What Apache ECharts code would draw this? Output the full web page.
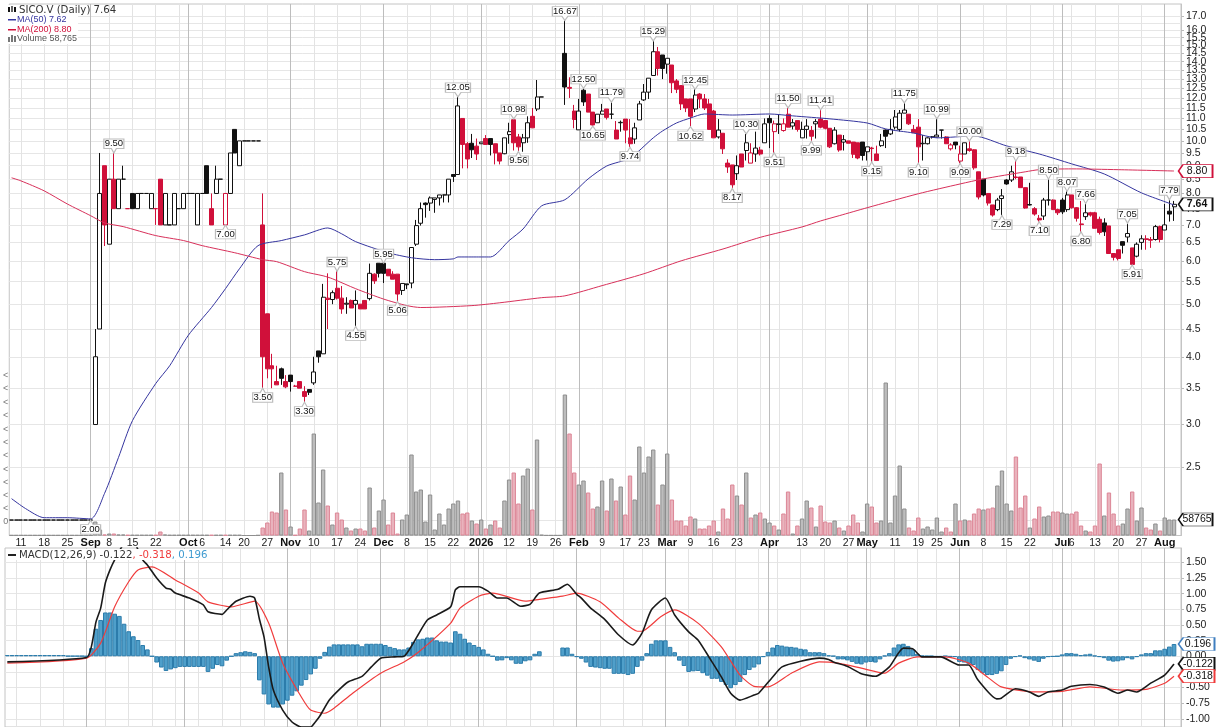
<!DOCTYPE html>
<html><head><meta charset="utf-8">
<script src="https://cdn.jsdelivr.net/npm/echarts@6/dist/echarts.min.js"></script>
<style>html,body{margin:0;padding:0;background:#fff}#c{width:1226px;height:727px}</style></head>
<body><div id="c"></div>
<script>
const tickIndex=[2,7,12,17,21,26,31,38,41,46,50,55,60,65,70,75,80,85,90,95,101,107,112,117,122,127,132,136,141,146,151,156,163,170,175,180,184,190,195,199,204,209,214,219,226,228,233,238,243,248];
const tickLabels=['11','18','25','Sep','8','15','22','Oct','6','14','20','27','Nov','10','17','24','Dec','8','15','22','2026','12','19','26','Feb','9','17','23','Mar','9','16','23','Apr','13','20','27','May','11','19','25','Jun','8','15','22','Jul','6','13','20','27','Aug'];
const extraWeekIndex=[36,98,102,161,165,185,224];
const monthIndex=[17,38,60,80,101,122,141,163,184,204,226,248];
const priceTicks=[2,2.5,3,3.5,4,4.5,5,5.5,6,6.5,7,7.5,8,8.5,9,9.5,10,10.5,11,11.5,12,12.5,13,13.5,14,14.5,15,15.5,16,16.5,17];
const macdTicks=[-1,-0.75,-0.5,-0.25,0,0.25,0.5,0.75,1,1.25,1.5];
const volumeEdgeTicks=[14,27,40,53,66,80,93,106,120,133,147,160];

const opens=[2,2,2,2,2,2,2,2,2,2,
2,2,2,2,2,2,2,2,3,4.5,
9,6.45,8.5,7.5,8.5,7.5,8,7.5,8,8,
7.5,7.5,8.5,7,7,7,7.5,7.5,8,8,
7,8,9,7.5,8,8.5,7,8,10.5,9,
10,10,10,10,7,4.8,3.85,3.6,3.8,3.6,
3.7,3.53,3.6,3.45,3.48,3.58,4.1,4.05,5.13,5.1,
5.35,5.13,5,5.08,5,5,5.08,5.12,5.68,5.95,
5.95,5.8,5.68,5.68,5.3,5.45,5.47,6.45,7.05,7.68,
7.68,7.8,7.85,7.95,7.95,8.67,8.67,11,9.88,9.9,
9.78,9.88,10.1,10.1,9.88,9.5,9.47,10.27,10.94,10.17,
9.92,10.13,11.1,11.45,12.05,null,null,null,null,14.5,
12.55,11.35,10.48,12.4,12.2,11.3,10.8,11.2,11.45,11.2,
10.47,10.8,10.97,10.13,10.08,10.93,11.9,12.3,13.2,14.6,
14.4,13.85,13.8,12.9,12.65,11.95,11.95,11.45,12.2,11.95,
11.7,11.35,10.17,10.33,9.1,9.03,8.7,9.46,9.6,9.1,
9.46,9.62,9.92,11,10.4,10.72,10.45,11.2,10.65,10.9,
10.13,10.5,10.45,10.75,10.97,10.9,10.55,9.88,10.25,9.95,
10,9.95,9.92,9.95,9.55,9.7,9.46,9.8,10.47,10.3,
10.6,10.5,11.25,11.2,10.5,10.6,9.88,9.88,10.17,10.17,
10.47,10.17,9.67,9.95,9.18,9.46,9.67,9.63,8.77,8.5,
8,7.62,7.47,7.83,8.47,8.47,8.58,8.58,8.2,7.63,
7.5,7.2,7.27,7.78,7.78,7.47,7.78,7.47,7.95,7.53,
7.03,7.25,7.37,7.37,7.17,7.06,6.97,6.2,6.3,6.52,
6.65,6.35,6.13,6.5,6.6,6.58,6.58,6.95,6.85,7.42,7.56];
const closes=[2,2,2,2,2,2,2,2,2,2,
2,2,2,2,2,2,2,2,4,8,
7,8.5,7.5,8.5,8.5,7.5,7.5,8,8,8,
8,7.5,7,8,7,8,7.5,8,8,8,
8,8,8,7,8.5,8.5,8,9.5,9.5,10,
10,10,10,10,4,3.8,3.8,3.55,3.65,3.52,
3.6,3.53,3.5,3.38,3.44,3.75,4,5.15,5.1,5.25,
5.13,4.9,5.02,4.92,5.08,4.9,4.9,5.7,5.52,5.7,
5.7,5.64,5.56,5.22,5.46,5.43,6.36,6.98,7.5,7.63,
7.85,7.85,7.95,7.95,8.5,8.6,11.6,9.85,9.26,9.63,
9.46,9.95,9.85,9.85,9.5,9.18,10.13,10.4,9.92,9.75,
10.13,10.8,10.57,12.05,12.05,null,null,null,null,12.57,
12.5,10.95,11.35,11.8,11.3,10.7,11.2,11.35,11.05,11.2,
10.08,10.82,10.47,9.88,10.57,11.7,12.3,13.05,14.6,13.6,
13.6,14.2,12.8,12.45,11.7,11.5,11.1,12.15,11.95,11.5,
10.5,10.13,10.47,9.67,8.95,8.3,9,8.95,9.92,9.5,
9.7,9.46,10.75,10.8,10.75,10.75,10.75,10.6,10.8,10.5,
10.5,10.65,10.2,10.85,10.6,10.55,9.75,10.47,9.62,10.05,
9.9,9.45,9.3,9.4,9.75,9.68,9.2,10,10.2,10.5,
11.07,11.25,11.4,10.75,10.35,9.75,9.9,10.13,10.17,10.25,
10.47,9.88,9.83,9.83,9.46,9.92,9.6,8.92,7.88,7.95,
7.68,7.3,7.78,7.92,8.33,8.77,8.56,8.2,7.52,7.62,
7.33,7.15,7.78,7.78,7.47,7.37,7.4,7.95,7.53,7.2,
7.01,7.37,7.3,6.9,6.78,6.8,6.2,6.1,6.07,6.42,
6.75,5.92,6.45,6.6,6.58,6.56,6.95,6.58,7,7.33,7.64];
const highs=[2,2,2,2,2,2,2,2,2,2,
2,2,2,2,2,2,2,2,4.5,9.5,
9,8.5,9.5,8.5,9,7.5,8,8,8,8,
8,7.5,8.5,8,7,8,7.5,8,8,8,
8,8,9,8,9,8.5,8,9.5,10.5,10,
10,10,10,10,8,4.8,4.05,3.85,3.82,3.7,
3.7,3.55,3.6,3.53,3.48,4,4.1,5.45,5.7,5.3,
5.75,5.4,5.15,5.1,5.3,5,5.08,5.94,5.7,5.95,
5.95,5.8,5.75,5.68,5.46,5.45,6.36,7.15,7.7,7.7,
7.9,7.85,7.95,7.95,8.5,8.67,12.05,11,9.95,10.3,
10.1,9.95,10.25,10.1,9.88,9.5,10.13,10.8,10.98,10.3,
10.3,11.1,11.5,12.95,12.05,null,null,null,null,16.67,
13.1,11.65,11.95,12.5,12.2,11.3,11.2,11.7,11.45,11.79,
10.88,10.9,10.97,10.97,10.8,11.85,12.73,13.05,15.29,14.9,
14.4,14.2,13.8,13,12.65,11.95,11.95,12.45,12.25,12.2,
11.95,11.4,10.97,10.33,9.25,9.03,9.4,9.46,10.3,9.9,
10.4,9.75,11,11.15,10.9,11.2,11,11.5,10.97,10.9,
10.85,10.97,10.65,10.97,11.41,10.9,10.55,10.6,10.25,10.25,
10,9.95,9.92,9.95,9.75,9.75,9.8,10.3,10.5,10.97,
11.4,11.4,11.75,11.2,10.7,10.97,10.25,10.15,10.2,10.99,
10.47,10.2,9.9,9.95,9.8,9.92,10,9.65,8.77,8.5,
8,7.62,7.85,8.15,8.5,9,9.18,8.58,8.2,8.37,
7.55,7.3,7.85,8.5,7.8,7.5,7.85,8.07,7.95,7.55,
7.75,7.66,7.4,7.4,7.25,7.2,6.97,6.2,6.3,6.52,
7.05,6.35,6.5,6.7,6.7,6.65,7,6.98,7.65,7.79,7.75];
const lows=[2,2,2,2,2,2,2,2,2,2,
2,2,2,2,2,2,2,2,3,4.5,
6.4,6.45,7.5,7.5,8.5,7.5,7.5,7.5,8,8,
7.5,7,7,7,7,7,7.5,7.5,8,8,
7,8,8,7,8,8.5,7,8,9.5,9,
10,10,10,10,3.5,3.65,3.5,3.55,3.55,3.5,
3.45,3.53,3.5,3.3,3.4,3.55,3.9,4.05,4.5,5,
5.1,4.8,4.8,4.92,4.55,4.9,4.9,5.08,5.45,5.6,
5.47,5.64,5.56,5.06,5.2,5.33,5.35,6.4,6.98,7.22,
7.43,7.37,7.6,7.7,7.7,8.4,8.67,8.9,8.9,9.3,
9.22,9.88,9.85,9.4,9.05,9.05,9.45,9.88,9.6,9.56,
9.55,9.92,10.57,11.35,12.05,null,null,null,null,11.65,
12,10.55,10.48,11.6,11.3,10.65,10.8,11.2,10.95,10.97,
10.08,10.4,9.9,9.74,9.88,10.93,11.85,11.95,13.2,13.2,
13,13.3,12.25,12.25,11.4,11.3,10.62,11.3,11.5,11.4,
10.5,10.13,10.1,9.46,8.73,8.17,8.47,8.95,9.2,9.1,
9.15,9.4,9.92,9.7,9.51,10.3,10.4,10.6,10.5,10.4,
10.13,10.1,9.99,10.1,10.55,10.5,9.7,9.85,9.55,9.6,
9.9,9.3,9.25,9.2,9.2,9.15,9.2,9.75,9.7,10.25,
10.5,10.4,11.25,10.7,10.35,9.1,9.2,9.85,10.1,10.15,
10.1,9.88,9.6,9.65,9.09,9.46,9.55,8.85,7.8,7.9,
7.6,7.25,7.42,7.29,8.3,8.4,8.5,8.2,7.5,7.6,
7.28,7.1,7.15,7.6,7.47,7.3,7.33,7.4,7.5,7.1,
6.8,7.15,7.25,6.9,6.72,6.68,6.2,6.02,6.02,6.2,
6.5,5.91,6.1,6.3,6.3,6.35,6.55,6.5,6.85,7.1,7.12];
const redFlags=[0,0,0,0,0,0,0,0,0,0,
0,0,0,0,0,0,0,0,0,0,
1,0,1,0,0,1,0,0,0,0,
0,1,1,0,0,0,0,0,0,0,
0,0,0,1,0,0,1,0,0,0,
0,0,0,0,1,1,1,1,0,1,
0,1,1,1,0,0,0,0,1,0,
1,1,0,1,0,1,1,0,1,0,
0,1,1,1,0,0,0,0,0,0,
0,0,0,0,0,0,0,1,1,0,
1,0,1,0,1,1,0,0,1,1,
0,0,1,0,0,0,0,0,0,0,
1,1,0,0,1,1,0,0,1,0,
1,0,1,1,0,0,0,0,0,1,
0,0,1,1,1,1,1,0,1,1,
1,1,0,1,1,1,0,1,0,1,
0,1,0,0,1,0,1,1,0,1,
0,0,1,0,1,1,1,0,1,0,
1,1,1,0,0,1,1,0,0,0,
0,0,0,1,1,1,0,0,0,0,
0,1,1,0,1,0,1,1,1,0,
1,1,0,0,0,0,1,1,1,0,
1,1,0,0,1,1,0,0,1,1,
1,0,1,1,1,0,1,1,1,0,
0,1,0,0,1,1,0,1,0,0,0];
const volumes=[0.3,0.3,0.3,0.3,0.3,0.3,0.3,0.3,0.3,0.3,
0.3,0.3,0.3,0.3,0.3,0.3,0.3,0.3,14,6,
1,2,2,1,1,0.5,0.5,0.5,0.5,0.5,
0.5,0.5,4,1,0.5,0.5,0.5,0.5,0.5,0.5,
0.5,0.5,0.5,0.5,0.5,0.5,0.5,0.5,0.5,0.5,
0,0,0,0.3,8,13,24,23,63,26,
9,0.5,7,26,5,102,33,66,30,11,
23,16,8,5,7,7,5,48,8,25,
36,11,23,2,16,21,81,44,46,14,
41,6,22,11,27,32,35,22,23,15,
12,16,7,11,15,8,35,56,63,32,
60,67,26,96,0.7,0.2,0.2,0.2,0.2,141,
102,63,51,55,43,27,29,55,25,57,
35,49,21,60,36,89,63,79,86,31,
51,82,36,15,15,10,19,17,7,7,
10,15,4,27,17,51,40,31,63,18,
21,23,17,13,10,6,22,44,2,10,
17,35,28,9,30,14,13,15,8,5,
10,21,13,4,32,29,13,15,153,13,
40,70,27,8,5,18,7,9,6,18,
4,8,4,32,15,16,15,22,27,26,
27,28,50,65,32,25,79,28,40,8,
17,29,19,20,24,24,23,22,22,24,
10,5,4,10,72,20,43,22,10,12,
27,44,15,28,8,6,12,5,18,16,16];
const macdHist=[0.02,0.02,0.02,0.02,0.02,0.02,0.02,0.02,0.02,0.02,
0.02,0.02,0.02,0.005,0.005,0.005,0.005,0,0.13,0.44,
0.58,0.7,0.7,0.68,0.645,0.52,0.4,0.32,0.26,0.18,
0.11,0,-0.1,-0.18,-0.235,-0.21,-0.19,-0.17,-0.17,-0.17,
-0.17,-0.17,-0.17,-0.25,-0.2,-0.14,-0.16,-0.07,0,0.05,
0.065,0.08,0.07,0.05,-0.385,-0.61,-0.77,-0.82,-0.82,-0.77,
-0.71,-0.63,-0.56,-0.47,-0.38,-0.29,-0.2,-0.04,0.07,0.155,
0.19,0.19,0.19,0.19,0.19,0.19,0.16,0.2,0.2,0.2,
0.2,0.18,0.15,0.13,0.11,0.11,0.14,0.23,0.27,0.28,
0.3,0.3,0.255,0.235,0.235,0.22,0.4,0.36,0.28,0.22,
0.18,0.15,0.11,0.04,0,-0.07,-0.065,-0.03,-0.065,-0.12,
-0.12,-0.08,-0.065,0.04,0.08,null,null,null,null,0.14,
0.14,0.04,-0.01,-0.04,-0.1,-0.17,-0.18,-0.19,-0.2,-0.2,
-0.28,-0.28,-0.28,-0.3,-0.28,-0.17,-0.07,0.05,0.2,0.255,
0.255,0.255,0.15,0.065,-0.07,-0.155,-0.25,-0.24,-0.235,-0.27,
-0.31,-0.36,-0.36,-0.41,-0.46,-0.51,-0.46,-0.41,-0.3,-0.22,
-0.18,-0.13,-0.01,0.07,0.14,0.18,0.17,0.155,0.15,0.14,
0.12,0.11,0.065,0.065,0.065,0.05,0.015,0.005,-0.05,-0.05,
-0.065,-0.09,-0.12,-0.13,-0.1,-0.09,-0.1,-0.05,0.01,0.05,
0.14,0.19,0.2,0.165,0.11,0.04,0.01,0.005,0.005,-0.005,
-0.005,0.005,-0.005,-0.01,-0.09,-0.1,-0.12,-0.14,-0.22,-0.27,
-0.3,-0.3,-0.28,-0.24,-0.14,-0.04,-0.01,0.01,-0.03,-0.05,
-0.07,-0.09,-0.04,-0.01,-0.005,0,0.03,0.05,0.05,0.04,
0.02,0.03,0.04,0.01,-0.01,-0.03,-0.07,-0.085,-0.08,-0.065,
-0.03,-0.05,-0.01,0.03,0.05,0.05,0.095,0.095,0.12,0.155,0.196];

const ma50Index=[0,3,7,12,17,20,23,26,31,34,38,43,46,49,53,58,63,68,71,74,81,86,91,95,96,99,103,107,110,114,119,124,128,133,138,140,143,146,149,155,163,168,176,184,188,194,199,207,214,221,228,235,243,250];
const ma50Values=[2.19,2.1,2.02,2.02,2.01,2.24,2.61,3.05,3.57,3.85,4.38,4.93,5.34,5.81,6.41,6.55,6.71,6.91,6.74,6.52,6.22,6.09,6.04,6.06,6.11,6.11,6.11,6.55,6.88,7.59,7.79,8.51,8.99,9.3,10.13,10.43,10.79,11.02,11.21,11.16,11.21,11.12,10.98,10.79,10.52,10.34,10.13,10.21,9.79,9.46,9.07,8.69,8.02,7.62];
const ma200Index=[0,2,7,12,17,20,24,31,37,41,48,54,57,63,67,69,74,80,85,88,99,105,114,119,127,136,144,153,161,170,174,178,184,195,204,209,218,221,228,238,250];
const ma200Values=[8.55,8.44,8.09,7.65,7.28,7.06,6.95,6.69,6.55,6.41,6.22,6.04,5.99,5.74,5.64,5.57,5.34,5.11,4.97,4.93,4.97,5.03,5.14,5.18,5.41,5.69,6.01,6.32,6.64,6.94,7.12,7.28,7.53,7.99,8.33,8.51,8.77,8.85,8.88,8.85,8.8];
const macdIndex=[0,17,18,19,20,21,22,23,25,27,28,29,30,32,34,35,36,39,42,43,46,47,49,52,53,54,55,56,57,59,61,63,65,66,67,69,71,73,76,78,80,83,85,87,88,90,92,95,96,97,101,103,105,107,110,112,114,118,120,122,123,125,128,131,134,136,138,141,143,146,148,151,153,155,157,160,161,164,166,170,174,176,177,180,183,186,189,192,194,196,200,204,206,208,212,213,216,219,221,223,226,228,232,235,238,240,242,245,248,250];
const macdValues=[-0.09,-0.02,0.15,0.55,0.77,1.17,1.38,1.54,1.8,1.85,1.7,1.54,1.46,1.25,1.09,1.07,1.01,0.93,0.82,0.71,0.67,0.74,0.88,0.96,0.93,0.6,0.31,-0.17,-0.54,-0.86,-1.05,-1.13,-1.13,-1.05,-0.95,-0.7,-0.54,-0.41,-0.32,-0.17,-0.03,-0.01,0,0.21,0.34,0.58,0.66,0.79,1.06,1.11,1.11,1.04,0.93,0.93,0.8,0.83,1.01,1.07,1.15,0.99,0.93,0.77,0.59,0.34,0.18,0.37,0.74,0.93,0.66,0.39,0.26,-0.09,-0.33,-0.59,-0.7,-0.62,-0.59,-0.33,-0.17,-0.08,-0.03,-0.05,-0.09,-0.16,-0.28,-0.32,-0.17,0.13,0.12,-0.01,-0.01,-0.14,-0.14,-0.38,-0.68,-0.67,-0.52,-0.57,-0.64,-0.57,-0.54,-0.48,-0.45,-0.49,-0.59,-0.54,-0.57,-0.43,-0.3,-0.122];
const signalIndex=[0,17,20,23,26,28,31,36,41,43,48,53,56,59,63,65,68,70,74,80,85,88,95,97,101,104,111,114,119,122,127,131,135,136,140,143,148,153,157,160,163,168,174,178,183,188,191,195,201,206,210,213,220,226,232,239,244,248,250];
const signalValues=[-0.11,-0.03,0.21,0.79,1.19,1.38,1.43,1.22,1.01,0.87,0.79,0.88,0.53,-0.11,-0.65,-0.86,-0.91,-0.83,-0.59,-0.27,-0.09,0.06,0.53,0.77,0.96,1.01,0.88,0.91,0.96,1.01,0.87,0.61,0.4,0.4,0.63,0.74,0.53,0.15,-0.3,-0.48,-0.49,-0.27,-0.09,-0.11,-0.19,-0.27,-0.11,-0.01,-0.01,-0.11,-0.33,-0.49,-0.57,-0.56,-0.49,-0.54,-0.53,-0.43,-0.318];

const highCallIndex=[22,70,80,96,108,119,123,129,138,147,158,167,174,192,199,206,216,223,227,231,240,249];
const highCallValues=[9.5,5.75,5.95,12.05,10.98,16.67,12.5,11.79,15.29,12.45,10.3,11.5,11.41,11.75,10.99,10,9.18,8.5,8.07,7.66,7.05,7.79];
const lowCallIndex=[17,46,54,63,74,83,109,125,133,146,155,164,172,185,195,204,213,221,230,241];
const lowCallValues=[2,7,3.5,3.3,4.55,5.06,9.56,10.65,9.74,10.62,8.17,9.51,9.99,9.15,9.1,9.09,7.29,7.1,6.8,5.91];

const lastClose=7.64, lastMa200=8.80, lastVolume=58765, lastMacd=-0.122, lastSignal=-0.318, lastHist=0.196;

const RED='#d0103a', BLACK='#111', BLUE='#35359f';
const categories=new Array(252).fill('');
tickIndex.forEach((t,k)=>{categories[t]=tickLabels[k];});
const weekSet=new Set(tickIndex.concat(extraWeekIndex));
const monthSet=new Set(monthIndex);
const boldLabels=new Set(['Sep','Oct','Nov','Dec','2026','Feb','Mar','Apr','May','Jun','Jul','Aug']);
const pairs=(xs,ys)=>xs.map((x,i)=>[x,ys[i]]);

const candleData=opens.map((o,i)=>{
  if(o===null) return {value:['-','-','-','-']};
  const col=redFlags[i]?RED:BLACK;
  const fill=closes[i]>o?'#fff':col;
  return {value:[o,closes[i],lows[i],highs[i]],itemStyle:{color:fill,color0:fill,borderColor:col,borderColor0:col}};
});
const volumeData=volumes.map((v,i)=>({value:v,itemStyle:redFlags[i]?{color:'#e9b3bd',borderColor:'#dc8696'}:{color:'#bdbdbd',borderColor:'#8e8e8e'}}));

const HIGH_PATH='path://M0,0H20V9.5H12.5L10,14L7.5,9.5H0Z';
const LOW_PATH='path://M10,0L12.5,4.5H20V14H0V4.5H7.5Z';
const TAG_PATH='path://M0,5L4,0H30V10H4Z';
const callout=(data,path,off,labOff)=>({type:'scatter',xAxisIndex:0,yAxisIndex:0,z:8,clip:false,silent:true,
  data,symbol:path,symbolSize:v=>[v[1]>=10?25:20,14],symbolOffset:[0,off],
  itemStyle:{color:'rgba(255,255,255,0.92)',borderColor:'#bcbcbc',borderWidth:1,opacity:1},
  label:{show:true,position:'inside',offset:[0,labOff],color:'#111',fontSize:9.5,fontFamily:'Liberation Sans',formatter:p=>p.value[1].toFixed(2)}});
const tag=(x,y,w,txt,col,ax,yAx,bold)=>({type:'scatter',xAxisIndex:ax,yAxisIndex:yAx,z:9,clip:false,silent:true,
  data:[[x,y]],symbol:TAG_PATH,symbolSize:[w,13],symbolOffset:[4.5+w/2,0],
  itemStyle:{color:'#fff',borderColor:col,borderWidth:1.2,opacity:1},
  label:{show:true,position:'inside',offset:[1.5,0],color:'#111',fontSize:10.5,fontWeight:bold?'bold':'normal',fontFamily:'Liberation Sans',formatter:()=>txt}});

const vLines=(gridIndex,set,color,labels)=>({type:'category',gridIndex,data:categories,boundaryGap:true,
  axisLine:{show:false},axisTick:{show:false},
  axisLabel:labels?{show:true,margin:2,fontSize:10.5,color:'#222',fontFamily:'Liberation Sans',hideOverlap:false,
      interval:(i)=>categories[i]!=='',
      formatter:v=>boldLabels.has(v)?`{b|${v}}`:v,
      rich:{b:{fontWeight:'bold',fontSize:11,color:'#111',fontFamily:'Liberation Sans'}}}:{show:false},
  splitLine:{show:true,alignWithLabel:true,interval:(i)=>set.has(i),lineStyle:{color,width:1}}});

const option={animation:false,backgroundColor:'#fff',
 grid:[{left:5,top:4,width:1176,height:531.5,show:true,borderColor:'#c4c4c4',borderWidth:1,backgroundColor:'transparent'},
       {left:5,top:548,width:1176,height:179,show:true,borderColor:'#c4c4c4',borderWidth:1,backgroundColor:'transparent'}],
 xAxis:[vLines(0,weekSet,'#e3e3e3',true),vLines(0,monthSet,'#bdbdbd',false),vLines(1,weekSet,'#e3e3e3',false),vLines(1,monthSet,'#bdbdbd',false)],
 yAxis:[
  {type:'log',logBase:10,gridIndex:0,position:'right',min:1.873,max:17.88,
   axisLine:{show:true,lineStyle:{color:'#c4c4c4'}},axisTick:{show:true,length:3,customValues:priceTicks,lineStyle:{color:'#bbb'}},
   axisLabel:{show:true,customValues:priceTicks,showMaxLabel:true,showMinLabel:true,margin:5,fontSize:10.5,color:'#222',fontFamily:'Liberation Sans',hideOverlap:false,formatter:v=>Number(v).toFixed(1)},
   splitLine:{show:true,lineStyle:{color:'#e6e6e6'}}},
  {type:'value',gridIndex:0,position:'left',min:0,max:531.5,
   axisLine:{show:false},axisTick:{show:false},splitLine:{show:false},
   axisLabel:{show:true,customValues:volumeEdgeTicks,margin:1,fontSize:9,color:'#777',fontFamily:'Liberation Sans',formatter:v=>v===14?'0':'<'}},
  {type:'value',gridIndex:1,position:'right',min:-1.13,max:1.73,
   axisLine:{show:true,lineStyle:{color:'#c4c4c4'}},axisTick:{show:true,length:3,customValues:macdTicks,lineStyle:{color:'#bbb'}},
   axisLabel:{show:true,customValues:macdTicks,showMaxLabel:true,showMinLabel:true,margin:5,fontSize:10.5,color:'#222',fontFamily:'Liberation Sans',hideOverlap:false,formatter:v=>Number(v).toFixed(2)},
   splitLine:{show:true,lineStyle:{color:'#e6e6e6'}}}
 ],
 series:[
  {type:'bar',name:'Volume',xAxisIndex:0,yAxisIndex:1,data:volumeData,barWidth:'94%',z:2,itemStyle:{borderWidth:1},silent:true},
  {type:'candlestick',name:'SICO.V',xAxisIndex:0,yAxisIndex:0,data:candleData,barWidth:4.5,z:4,large:false,progressive:0,silent:true,itemStyle:{borderWidth:1}},
  {type:'line',name:'MA(50)',xAxisIndex:0,yAxisIndex:0,data:pairs(ma50Index,ma50Values),showSymbol:false,smooth:0.25,z:5,lineStyle:{color:BLUE,width:1},silent:true},
  {type:'line',name:'MA(200)',xAxisIndex:0,yAxisIndex:0,data:pairs(ma200Index,ma200Values),showSymbol:false,smooth:0.25,z:5,lineStyle:{color:'#d8305a',width:1},silent:true},
  callout(pairs(highCallIndex,highCallValues),HIGH_PATH,-7,-2.25),
  callout(pairs(lowCallIndex,lowCallValues),LOW_PATH,7,2.25),
  tag(250,lastMa200,34,lastMa200.toFixed(2),RED,0,0,false),
  tag(250,lastClose,34,lastClose.toFixed(2),'#111',0,0,true),
  tag(250,lastVolume/3673,34,String(lastVolume),'#111',0,1,false),
  {type:'bar',name:'Hist',xAxisIndex:2,yAxisIndex:2,data:macdHist,barWidth:'100%',z:2,silent:true,itemStyle:{color:'#4f9fca',borderColor:'#2c7cab',borderWidth:1}},
  {type:'line',name:'Signal',xAxisIndex:2,yAxisIndex:2,data:pairs(signalIndex,signalValues),showSymbol:false,smooth:0.2,z:5,lineStyle:{color:'#f03c3c',width:1.2},silent:true},
  {type:'line',name:'MACD',xAxisIndex:2,yAxisIndex:2,data:pairs(macdIndex,macdValues),showSymbol:false,smooth:0.2,z:6,lineStyle:{color:'#1a1a1a',width:1.6},silent:true},
  tag(250,lastHist,36,lastHist.toFixed(3),'#3f7fc0',2,2,false),
  tag(250,lastMacd,36,lastMacd.toFixed(3),'#111',2,2,false),
  tag(250,lastSignal,36,lastSignal.toFixed(3),'#f03c3c',2,2,false)
 ],
 graphic:[
  {type:'rect',z:50,shape:{x:6,y:5,width:72,height:39},style:{fill:'#fff'}},
  {type:'rect',z:50,shape:{x:6,y:549,width:204,height:11},style:{fill:'#fff'}},
  {type:'rect',z:51,shape:{x:8,y:7,width:2,height:5},style:{fill:'#111'}},
  {type:'rect',z:51,shape:{x:11,y:6,width:2,height:6},style:{fill:'#666'}},
  {type:'rect',z:51,shape:{x:14,y:7,width:2,height:5},style:{fill:'#111'}},
  {type:'text',z:52,x:19,y:5,style:{text:'SICO.V (Daily) 7.64',font:'10.2px "DejaVu Sans"',fill:'#333'}},
  {type:'rect',z:51,shape:{x:8,y:19,width:8,height:1.5},style:{fill:BLUE}},
  {type:'text',z:52,x:17,y:15,style:{text:'MA(50) 7.62',font:'9px "Liberation Sans"',fill:BLUE}},
  {type:'rect',z:51,shape:{x:8,y:29,width:8,height:1.5},style:{fill:RED}},
  {type:'text',z:52,x:17,y:25,style:{text:'MA(200) 8.80',font:'9px "Liberation Sans"',fill:RED}},
  {type:'rect',z:51,shape:{x:8,y:37,width:2,height:5},style:{fill:'#777'}},
  {type:'rect',z:51,shape:{x:11,y:35,width:2,height:7},style:{fill:'#777'}},
  {type:'rect',z:51,shape:{x:14,y:36,width:2,height:6},style:{fill:'#777'}},
  {type:'text',z:52,x:17,y:34,style:{text:'Volume 58,765',font:'9px "Liberation Sans"',fill:'#555'}},
  {type:'rect',z:51,shape:{x:8,y:554,width:8,height:2},style:{fill:'#222'}},
  {type:'text',z:52,x:19,y:550,style:{rich:{a:{fill:'#333',font:'10.2px "DejaVu Sans"'},b:{fill:'#f03c3c',font:'10.2px "DejaVu Sans"'},c:{fill:'#3f9bd0',font:'10.2px "DejaVu Sans"'}},text:'{a|MACD(12,26,9) -0.122}{b|, -0.318}{c|, 0.196}'}}
 ]
};
echarts.init(document.getElementById('c'),null,{renderer:'canvas'}).setOption(option);
</script></body></html>
